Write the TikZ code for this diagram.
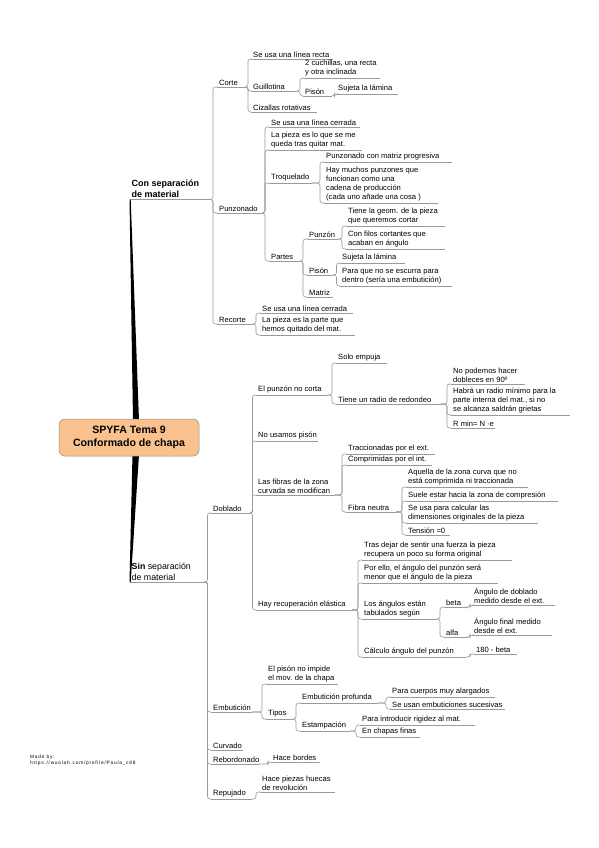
\documentclass[tikz,border=0pt]{standalone}
\usepackage{fontspec}
\setmainfont{Liberation Sans}
\newfontfamily\spacedfont[LetterSpace=16]{Liberation Sans}
\usetikzlibrary{calc}
\definecolor{lnc}{HTML}{9A9A9A}
\definecolor{orng}{HTML}{F9C18E}
\newcommand\mn[5]{%
  \node[txt] (#1) at (#2,#3) {#5};
  \coordinate (#1-w) at (#2,#3);
  \coordinate (#1-e) at ($(#2,#3)+(#4,0)$);
  \draw[ul] (#1-w) -- (#1-e);}
\newcommand\br[3]{\draw[conn] (#1-e) -- ++(#2,0) |- (#3-w);}
\begin{document}
\begin{tikzpicture}[x=1pt,y=-1pt,
  txt/.style={anchor=south west, inner xsep=2pt, inner ysep=1.3pt, align=left,
    font=\fontsize{7.6}{9.3}\selectfont},
  ul/.style={draw=lnc, line width=0.6pt},
  conn/.style={draw=lnc, line width=0.6pt, rounded corners=2.5pt},
  root/.style={draw=black!45, fill=orng, rounded corners=6pt, line width=0.5pt,
    minimum width=140pt, minimum height=37pt, align=center,
    font=\fontsize{10.6}{13}\selectfont\bfseries}]
\useasboundingbox[fill=white] (0,0) rectangle (599,848);

% ---------- main branches ----------
\node[txt, font=\fontsize{9}{11}\selectfont\bfseries] (con) at (129.5,199.5) {Con separación\\de material};
\coordinate (con-w) at (129.5,199.5);
\coordinate (con-e) at (210,199.5);
\draw[ul] (con-w) -- (con-e);

\node[txt, font=\fontsize{8.8}{11}\selectfont] (sin) at (129.5,582) {\textbf{Sin} separación\\de material};
\coordinate (sin-w) at (129.5,582);
\coordinate (sin-e) at (204.5,582);
\draw[ul] (sin-w) -- (sin-e);

\coordinate (rootc) at (129,437.5);
\fill[black] ($(rootc)+(4,-17)$) -- ($(rootc)+(10,-17)$) -- ($(con-w)+(1.2,0)$) -- (con-w) -- cycle;
\fill[black] ($(rootc)+(3.5,17)$) -- ($(rootc)+(10,17)$) -- ($(sin-w)+(1.2,0)$) -- (sin-w) -- cycle;
\node[root] (root) at (rootc) {SPYFA Tema 9\\Conformado de chapa};

% ---------- Con separacion ----------
\mn{corte}{217}{87}{28}{Corte}
\br{con}{3}{corte}
\mn{c1}{251}{59}{82}{Se usa una línea recta}
\mn{guill}{251}{91}{46}{Guillotina}
\mn{g1}{303}{78}{77}{2 cuchillas, una recta\\y otra inclinada}
\mn{gpis}{303}{96}{29}{Pisón}
\mn{gpis1}{336}{94}{62}{Sujeta la lámina}
\mn{ciz}{251}{112}{66}{Cizallas rotativas}
\br{corte}{3}{c1}\br{corte}{3}{guill}\br{corte}{3}{ciz}
\br{guill}{3}{g1}\br{guill}{3}{gpis}
\br{gpis}{2.5}{gpis1}

\mn{punz}{217}{213}{45}{Punzonado}
\br{con}{3}{punz}
\mn{p1}{269}{127}{91}{Se usa una línea cerrada}
\mn{p2}{269}{150}{93}{La pieza es lo que se me\\queda tras quitar mat.}
\mn{troq}{269}{183}{43}{Troquelado}
\mn{t1}{324}{162}{128}{Punzonado con matriz progresiva}
\mn{t2}{324}{203}{114}{Hay muchos punzones que\\funcionan como una\\cadena de producción\\(cada uno añade una cosa )}
\mn{partes}{269}{261}{31}{Partes}
\mn{pzn}{307}{239}{31}{Punzón}
\mn{pz1}{346}{226}{99}{Tiene la geom. de la pieza\\que queremos cortar}
\mn{pz2}{346}{249}{99}{Con filos cortantes que\\acaban en ángulo}
\mn{pis}{307}{275}{26}{Pisón}
\mn{pi1}{340}{263}{65}{Sujeta la lámina}
\mn{pi2}{340}{286}{112}{Para que no se escurra para\\dentro (sería una embutición)}
\mn{matriz}{307}{297}{26}{Matriz}
\br{punz}{3}{p1}\br{punz}{3}{p2}\br{punz}{3}{troq}\br{punz}{3}{partes}
\br{troq}{8}{t1}\br{troq}{8}{t2}
\br{partes}{3}{pzn}\br{partes}{3}{pis}\br{partes}{3}{matriz}
\br{pzn}{4}{pz1}\br{pzn}{4}{pz2}
\br{pis}{3.5}{pi1}\br{pis}{3.5}{pi2}

\mn{rec}{217}{324}{36}{Recorte}
\br{con}{3}{rec}
\mn{r1}{260}{313}{93}{Se usa una línea cerrada}
\mn{r2}{260}{335}{95}{La pieza es la parte que\\hemos quitado del mat.}
\br{rec}{3}{r1}\br{rec}{3}{r2}

% ---------- Sin separacion ----------
\mn{dob}{211}{513}{39}{Doblado}
\br{sin}{3}{dob}
\mn{epnc}{256}{395}{71}{El punzón no corta}
\mn{se1}{336}{363}{51}{Solo empuja}
\mn{trr}{336}{404}{105}{Tiene un radio de redondeo}
\mn{tr1}{451}{384}{74}{No podemos hacer\\dobleces en 90º}
\mn{tr2}{451}{415}{119}{Habrá un radio mínimo para la\\parte interna del mat., si no\\se alcanza saldrán grietas}
\mn{tr3}{451}{428}{44}{R min= N ·e}
\mn{nup}{256}{441}{62}{No usamos pisón}
\mn{fib}{256}{495}{79}{Las fibras de la zona\\curvada se modifican}
\mn{f1}{346}{454}{89}{Traccionadas por el ext.}
\mn{f2}{346}{465}{86}{Comprimidas por el int.}
\mn{fn}{346}{512}{50}{Fibra neutra}
\mn{fn1}{406}{487}{122}{Aquella de la zona curva que no\\está comprimida ni traccionada}
\mn{fn2}{406}{501}{152}{Suele estar hacia la zona de compresión}
\mn{fn3}{406}{523}{132}{Se usa para calcular las\\dimensiones originales de la pieza}
\mn{fn4}{406}{535}{44}{Tensión =0}
\mn{hre}{256}{610}{96}{Hay recuperación elástica}
\mn{h1}{362}{560}{150}{Tras dejar de sentir una fuerza la pieza\\recupera un poco su forma original}
\mn{h2}{362}{583}{136}{Por ello, el ángulo del punzón será\\menor que el ángulo de la pieza}
\mn{lae}{362}{619}{75}{Los ángulos están\\tabulados según}
\mn{beta}{444}{607}{24}{beta}
\mn{b1}{472}{605}{83}{Ángulo de doblado\\medido desde el ext.}
\mn{alfa}{444}{637}{24}{alfa}
\mn{a1}{472}{635}{80}{Ángulo final medido\\desde el ext.}
\mn{cap}{362}{657}{104}{Cálculo ángulo del punzón}
\mn{c180}{474}{654}{43}{180 - beta}
\br{dob}{2.5}{epnc}\br{dob}{2.5}{nup}\br{dob}{2.5}{fib}\br{dob}{2.5}{hre}
\br{epnc}{5}{se1}\br{epnc}{5}{trr}
\br{trr}{6}{tr1}\br{trr}{6}{tr2}\br{trr}{6}{tr3}
\br{fib}{7}{f1}\br{fib}{7}{f2}\br{fib}{7}{fn}
\br{fn}{6}{fn1}\br{fn}{6}{fn2}\br{fn}{6}{fn3}\br{fn}{6}{fn4}
\br{hre}{6}{h1}\br{hre}{6}{h2}\br{hre}{6}{lae}\br{hre}{6}{cap}
\br{lae}{3}{beta}\br{lae}{3}{alfa}
\br{beta}{2}{b1}\br{alfa}{2}{a1}
\br{cap}{4}{c180}

\mn{emb}{211}{712}{41}{Embutición}
\br{sin}{3}{emb}
\mn{e1}{266}{684}{72}{El pisón no impide\\el mov. de la chapa}
\mn{tipos}{266}{719}{27}{Tipos}
\mn{ep}{300}{703}{78}{Embutición profunda}
\mn{ep1}{390}{697}{105}{Para cuerpos muy alargados}
\mn{ep2}{390}{709}{115}{Se usan embuticiones sucesivas}
\mn{est}{300}{731}{50}{Estampación}
\mn{es1}{360}{725}{115}{Para introducir rigidez al mat.}
\mn{es2}{360}{737}{60}{En chapas finas}
\br{emb}{10}{e1}\br{emb}{10}{tipos}
\br{tipos}{3}{ep}\br{tipos}{3}{est}
\br{ep}{8}{ep1}\br{ep}{8}{ep2}
\br{est}{6}{es1}\br{est}{6}{es2}

\mn{curv}{211}{750}{32}{Curvado}
\br{sin}{3}{curv}
\mn{rebo}{211}{764}{48}{Rebordonado}
\mn{hb}{271}{762}{49}{Hace bordes}
\br{sin}{3}{rebo}\br{rebo}{9}{hb}
\mn{rep}{211}{799}{41}{Repujado}
\mn{hp}{260}{792}{75}{Hace piezas huecas\\de revolución}
\br{sin}{3}{rep}\br{rep}{4}{hp}

% ---------- credit ----------
\node[anchor=north west, inner sep=0pt, align=left,
  font=\spacedfont\fontsize{4.8}{5.4}\selectfont] (made) at (30,755) {Made by:\\https://wuolah.com/profile/Paula\_c88};
\end{tikzpicture}
\end{document}
